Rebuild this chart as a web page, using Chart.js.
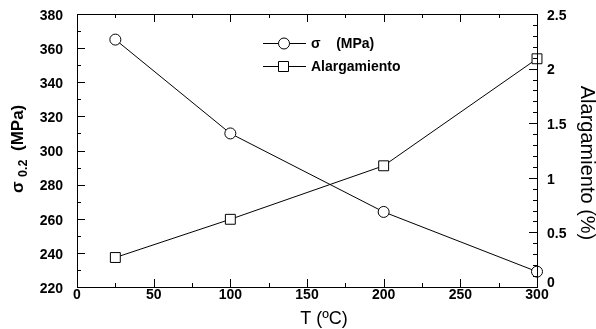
<!DOCTYPE html>
<html>
<head>
<meta charset="utf-8">
<script src="https://cdn.jsdelivr.net/npm/chart.js@4"></script>
<style>
  html, body { margin: 0; padding: 0; background: #fff; }
  #wrap { width: 596px; height: 329px; }
</style>
</head>
<body>
<div id="wrap"><canvas id="chart" width="596" height="329"></canvas></div>
<script>
// datos
const temps = [25, 100, 200, 300];
const sigma = [365, 310, 264, 229];
const alargamiento = [0.27, 0.62, 1.11, 2.09];

const xTicks = [0, 50, 100, 150, 200, 250, 300];
const yLeftTicks = [220, 240, 260, 280, 300, 320, 340, 360, 380];
const yRightTicks = [0, 0.5, 1, 1.5, 2, 2.5];

const FONT = '"Liberation Sans", Arial, sans-serif';

// ejes, marcas y titulos dibujados a mano
const axesPlugin = {
  id: 'axesPlugin',
  afterDraw(chart) {
    const ctx = chart.ctx;
    const area = chart.chartArea;
    const x = chart.scales.x, yl = chart.scales.y, yr = chart.scales.y1;
    ctx.save();
    ctx.strokeStyle = '#000';
    ctx.lineWidth = 1;
    ctx.strokeRect(Math.round(area.left) + 0.5, Math.round(area.top) + 0.5,
      Math.round(area.right - area.left), Math.round(area.bottom - area.top));

    function hline(px, y0, y1) {
      ctx.beginPath(); ctx.moveTo(Math.round(px) + 0.5, y0); ctx.lineTo(Math.round(px) + 0.5, y1); ctx.stroke();
    }
    function vline(py, x0, x1) {
      ctx.beginPath(); ctx.moveTo(x0, Math.round(py) + 0.5); ctx.lineTo(x1, Math.round(py) + 0.5); ctx.stroke();
    }
    // x ticks (abajo y arriba)
    for (let v = 0; v <= 300; v += 25) {
      const px = x.getPixelForValue(v);
      const len = v % 50 === 0 ? 8 : 4;
      hline(px, area.bottom, area.bottom - len);
      hline(px, area.top, area.top + len);
    }
    // y izquierda
    for (let v = 220; v <= 380; v += 10) {
      const py = yl.getPixelForValue(v);
      const len = v % 20 === 0 ? 8 : 4;
      vline(py, area.left, area.left + len);
    }
    // y derecha
    for (let i = 0; i <= 25; i++) {
      const v = i / 10;
      const py = yr.getPixelForValue(v);
      const len = i % 5 === 0 ? 8 : 4;
      vline(py, area.right, area.right - len);
    }

    ctx.fillStyle = '#000';
    ctx.font = 'bold 14px ' + FONT;
    ctx.textBaseline = 'middle';
    ctx.textAlign = 'center';
    xTicks.forEach(v => ctx.fillText(String(v), x.getPixelForValue(v), area.bottom + 8));
    ctx.textAlign = 'right';
    yLeftTicks.forEach(v => ctx.fillText(String(v), area.left - 14, yl.getPixelForValue(v) + 2));
    ctx.textAlign = 'left';
    yRightTicks.forEach(v => {
      let py = yr.getPixelForValue(v) + 2;
      if (v === 0) py -= 6;
      ctx.fillText(String(v), area.right + 10, py);
    });

    // titulo x
    ctx.textAlign = 'center';
    ctx.font = '18px ' + FONT;
    ctx.fillText('T (ºC)', 324, 319);

    // titulo y izquierda
    ctx.save();
    ctx.translate(18, 193);
    ctx.rotate(-Math.PI / 2);
    ctx.textAlign = 'left';
    ctx.font = 'bold 17px ' + FONT;
    ctx.fillText('σ', 0, 0);
    ctx.font = 'bold 12.5px ' + FONT;
    ctx.fillText('0.2', 16, 6);
    ctx.font = 'bold 17px ' + FONT;
    ctx.fillText('(MPa)', 42, 0);
    ctx.restore();

    // titulo y derecha
    ctx.save();
    ctx.translate(587, 163);
    ctx.rotate(Math.PI / 2);
    ctx.textAlign = 'center';
    ctx.font = '20px ' + FONT;
    ctx.fillText('Alargamiento (%)', 0, 0);
    ctx.restore();

    // leyenda
    const rows = [
      { y: 43, label: 'σ    (MPa)', shape: 'circle' },
      { y: 66, label: 'Alargamiento', shape: 'rect' }
    ];
    ctx.font = 'bold 14px ' + FONT;
    ctx.textAlign = 'left';
    rows.forEach(r => {
      vline(r.y, 263, 306);
      ctx.fillStyle = '#fff';
      ctx.beginPath();
      if (r.shape === 'circle') {
        ctx.arc(284, r.y + 0.5, 5.5, 0, Math.PI * 2);
      } else {
        ctx.rect(278.5, r.y - 4.5, 10, 10);
      }
      ctx.fill(); ctx.stroke();
      ctx.fillStyle = '#000';
      ctx.fillText(r.label, 311, r.y + 1);
    });
    ctx.restore();
  }
};

new Chart(document.getElementById('chart').getContext('2d'), {
  type: 'scatter',
  data: {
    datasets: [
      {
        label: 'σ (MPa)',
        data: temps.map((t, i) => ({ x: t, y: sigma[i] })),
        yAxisID: 'y',
        showLine: true,
        clip: false,
        borderColor: '#000',
        borderWidth: 1,
        backgroundColor: '#fff',
        pointStyle: 'circle',
        pointRadius: 5.5,
        pointBorderColor: '#000',
        pointBorderWidth: 1
      },
      {
        label: 'Alargamiento',
        data: temps.map((t, i) => ({ x: t, y: alargamiento[i] })),
        yAxisID: 'y1',
        showLine: true,
        clip: false,
        borderColor: '#000',
        borderWidth: 1,
        backgroundColor: '#fff',
        pointStyle: 'rect',
        pointRadius: 7,
        pointBorderColor: '#000',
        pointBorderWidth: 1
      }
    ]
  },
  options: {
    responsive: false,
    animation: false,
    layout: { padding: { left: 77, right: 59, top: 14, bottom: 42 } },
    plugins: { legend: { display: false }, tooltip: { enabled: false } },
    scales: {
      x: { type: 'linear', min: 0, max: 300, display: false },
      y: { type: 'linear', min: 220, max: 380, display: false },
      y1: { type: 'linear', min: 0, max: 2.5, display: false, position: 'right' }
    }
  },
  plugins: [axesPlugin]
});
</script>
</body>
</html>
